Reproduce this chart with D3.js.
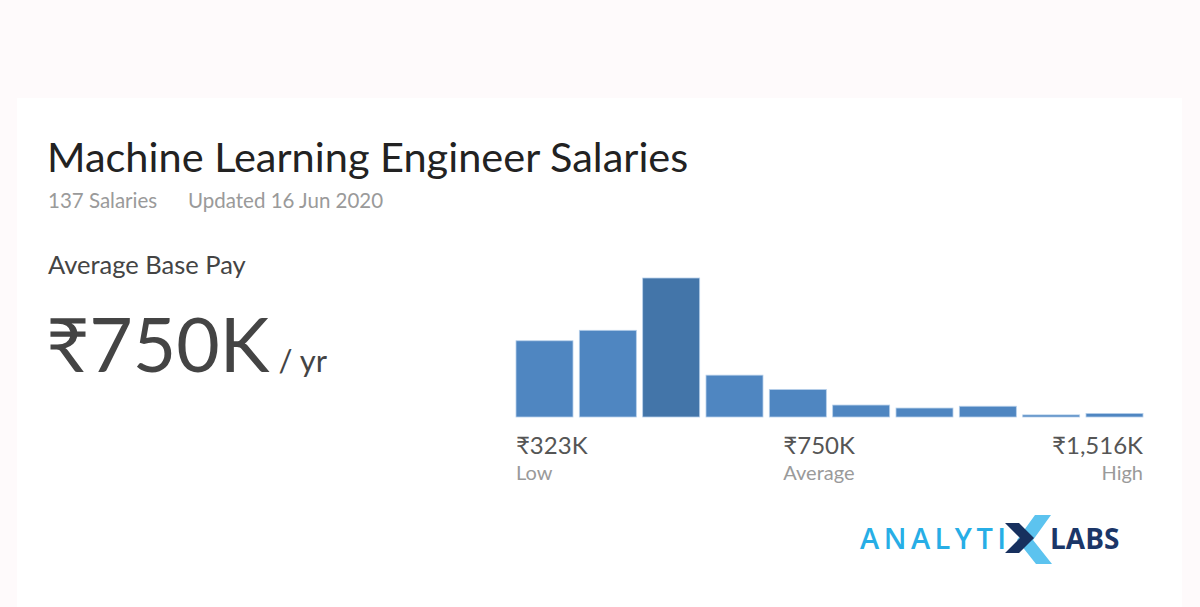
<!DOCTYPE html>
<html>
<head>
<meta charset="utf-8">
<script src="https://cdn.jsdelivr.net/npm/d3@7"></script>
<style>
  body { margin: 0; background: #fefafb; }
  svg { display: block; font-family: Lato, "Open Sans", sans-serif; }
</style>
</head>
<body>
<div id="container"></div>
<script>
'use strict'
// salary histogram, 10 bins from low to high (relative counts)
const bins = [0, 1, 2, 3, 4, 5, 6, 7, 8, 9];
const salaryCounts = [25.5, 29, 46.5, 14, 9.2, 4, 3, 3.6, 0.7, 1.2];
const avgBin = 2;
const rangeValues = ['₹323K', '₹750K', '₹1,516K'];
const rangeNames = ['Low', 'Average', 'High'];

const width = 1200, height = 607;

const svg = d3.select('#container').append('svg')
    .attr('width', width)
    .attr('height', height);

// white card below the pink strip
svg.append('rect').attr('x', 17).attr('y', 98).attr('width', 1165).attr('height', 509).attr('fill', '#fff');

// header texts
svg.append('text').attr('x', 47).attr('y', 172)
    .attr('font-size', 41.5).attr('fill', '#222')
    .text('Machine Learning Engineer Salaries');
svg.append('text').attr('x', 48).attr('y', 208)
    .attr('font-size', 20.5).attr('fill', '#9a9a9a')
    .text('137 Salaries');
svg.append('text').attr('x', 188).attr('y', 208)
    .attr('font-size', 20.5).attr('fill', '#9a9a9a')
    .text('Updated 16 Jun 2020');
svg.append('text').attr('x', 48).attr('y', 274)
    .attr('font-size', 25.5).attr('fill', '#444')
    .text('Average Base Pay');
const big = svg.append('text').attr('x', 46).attr('y', 372).attr('fill', '#444');
big.append('tspan').attr('font-size', 75).text('₹750K');
big.append('tspan').attr('font-size', 31).attr('dx', 9).text('/ yr');

// bars
const x = d3.scaleBand().domain(bins).range([516, 1143]).paddingInner(0.1);
const y = d3.scaleLinear().domain([0, d3.max(salaryCounts)]).range([417, 278]);

svg.selectAll('.bar')
    .data(salaryCounts)
    .enter().append('rect')
    .attr('class', 'bar')
    .attr('x', (d, i) => x(bins[i]))
    .attr('y', d => y(d))
    .attr('width', x.bandwidth())
    .attr('height', d => y(0) - y(d))
    .attr('fill', (d, i) => i === avgBin ? '#4375a9' : '#4f86c1')
    .attr('stroke', '#b7d0ea')
    .attr('stroke-width', 0.8);

// low / average / high labels
const labelX = [x(0), x(4) + 14, x(9) + x.bandwidth()];
const anchors = ['start', 'start', 'end'];
const lbl = svg.selectAll('.lbl')
    .data(rangeValues)
    .enter().append('g')
    .attr('class', 'lbl')
    .attr('transform', (d, i) => `translate(${labelX[i]},0)`);
lbl.append('text').attr('y', 454)
    .attr('text-anchor', (d, i) => anchors[i])
    .attr('font-size', 24).attr('fill', '#555')
    .text(d => d);
lbl.append('text').attr('y', 480)
    .attr('text-anchor', (d, i) => anchors[i])
    .attr('font-size', 20).attr('fill', '#9a9a9a')
    .text((d, i) => rangeNames[i]);

// logo
const logo = svg.append('g');
logo.append('text').attr('x', 860).attr('y', 549)
    .attr('font-family', 'Open Sans, sans-serif').attr('font-weight', 600)
    .attr('font-size', 29).attr('letter-spacing', 4.5).attr('fill', '#27aee6')
    .text('ANALYTI');
logo.append('path')
    .attr('d', 'M1035,515 L1051,515 L1033,540 L1052,564 L1036,564 L1017,540 Z')
    .attr('fill', '#5cc3ef');
logo.append('path')
    .attr('d', 'M1005,523 L1019,523 L1034,538 L1019,553 L1005,553 L1020,538 Z')
    .attr('fill', '#17305e');
logo.append('text').attr('x', 1050).attr('y', 549)
    .attr('font-family', 'Open Sans, sans-serif').attr('font-weight', 700)
    .attr('font-size', 28).attr('fill', '#1b3668')
    .text('LABS');
</script>
</body>
</html>
